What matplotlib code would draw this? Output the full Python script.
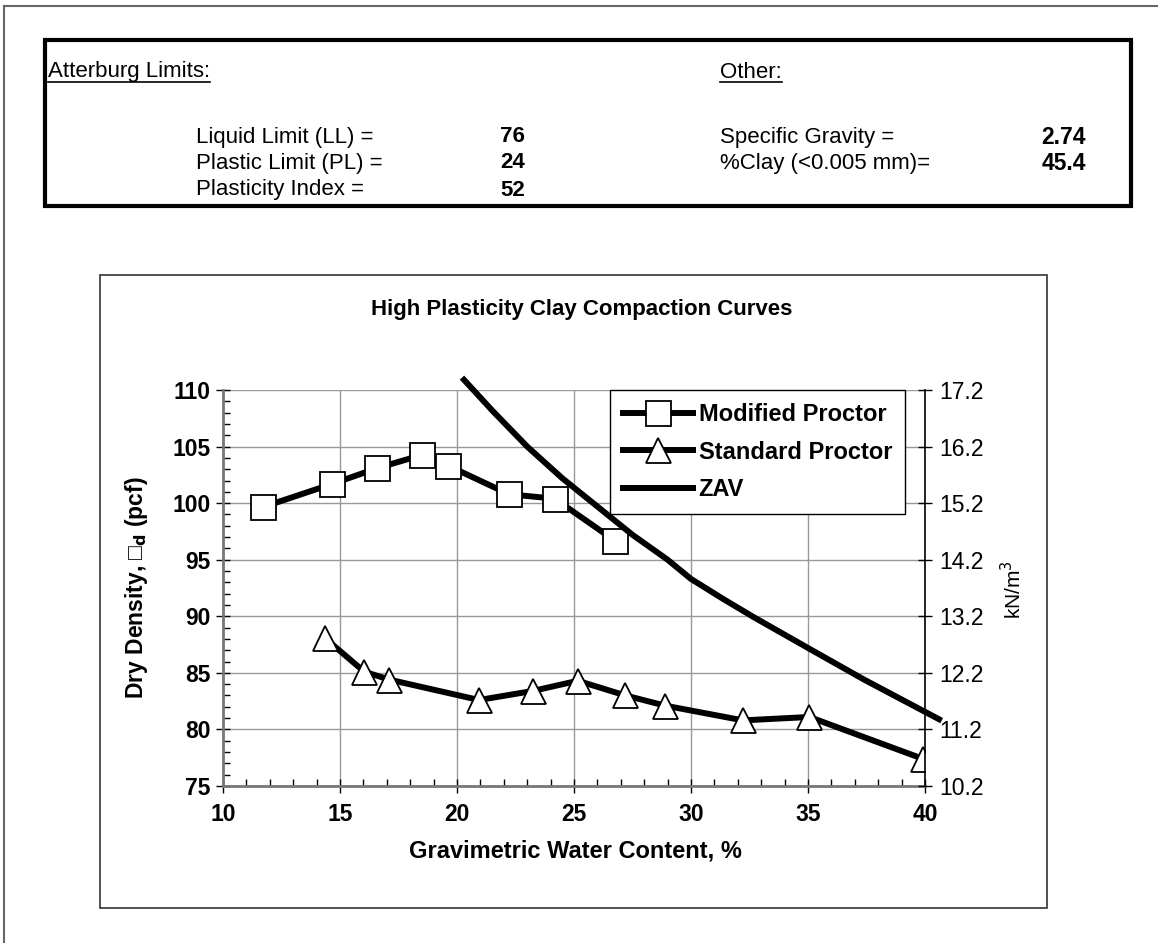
import matplotlib
matplotlib.use('Agg')
import matplotlib.pyplot as plt
from matplotlib.lines import Line2D
from matplotlib.patches import Rectangle
import numpy as np

plt.rcParams['font.family'] = ['Liberation Sans', 'DejaVu Sans']

# --- data ---
mod_w = [11.7, 14.64, 16.6, 18.49, 19.63, 22.23, 24.17, 26.75]
mod_gd = [99.65, 101.68, 103.1, 104.25, 103.3, 100.78, 100.4, 96.68]

std_w = [14.34, 16.04, 17.11, 20.94, 23.24, 25.16, 27.2, 28.9, 32.22, 35.06, 39.91]
std_gd = [88.1, 85.1, 84.4, 82.6, 83.4, 84.3, 83.0, 82.1, 80.8, 81.1, 77.4]

zav_w = [20.3, 21.5, 23.0, 24.5, 26.0, 27.5, 29.0, 30.0, 31.4, 32.7, 35.0, 37.4, 40.6]
zav_gd = [110.9, 108.2, 105.0, 102.2, 99.7, 97.2, 95.0, 93.3, 91.5, 89.9, 87.2, 84.4, 80.9]

kn_ticks = [10.2, 11.2, 12.2, 13.2, 14.2, 15.2, 16.2, 17.2]

atterburg_names = ['Liquid Limit (LL) =', 'Plastic Limit (PL) =', 'Plasticity Index =']
atterburg_vals = ['76', '24', '52']
other_names = ['Specific Gravity =', '%Clay (<0.005 mm)=']
other_vals = ['2.74', '45.4']

W, H = 1158, 943


def fx(px):
	return px / W


def fy(py):
	return 1 - py / H


fig = plt.figure(figsize=(W / 100, H / 100), dpi=100)

# page border (top and left only)
fig.add_artist(Line2D([fx(4), fx(4)], [0, fy(6)], color='#666666', lw=1.5))
fig.add_artist(Line2D([fx(4), 1], [fy(6), fy(6)], color='#666666', lw=1.5))

# properties table
fig.add_artist(Rectangle((fx(45), fy(206)), fx(1131) - fx(45), fy(40) - fy(206),
	fill=False, lw=3, ec='black'))
hdr1 = fig.text(fx(48), fy(72), 'Atterburg Limits:', fontsize=16, va='center')
hdr2 = fig.text(fx(720), fy(72), 'Other:', fontsize=16, va='center')
rows_y = [137, 163, 190]
for name, val, y in zip(atterburg_names, atterburg_vals, rows_y):
	fig.text(fx(196), fy(y), name, fontsize=16, va='center')
	fig.text(fx(500), fy(y), val, fontsize=16, va='center', fontweight='bold')
for name, val, y in zip(other_names, other_vals, rows_y):
	fig.text(fx(720), fy(y), name, fontsize=16, va='center')
	fig.text(fx(1086), fy(y), val, fontsize=16.5, va='center', ha='right', fontweight='bold')

# chart frame
fig.add_artist(Rectangle((fx(100), fy(908)), fx(1047) - fx(100), fy(275) - fy(908),
	fill=False, lw=1.2, ec='#333333'))
fig.text(fx(582), fy(310), 'High Plasticity Clay Compaction Curves', fontsize=16,
	fontweight='bold', ha='center', va='center')

ax = fig.add_axes([fx(223), fy(786), (925 - 223) / W, (786 - 390) / H])
ax.plot(mod_w, mod_gd, color='black', lw=4.3, marker='s', ms=18, mfc='white',
	mec='black', mew=1.3, label='Modified Proctor', zorder=3)
ax.plot(std_w, std_gd, color='black', lw=4.3, marker='^', ms=18, mfc='white',
	mec='black', mew=1.3, label='Standard Proctor', zorder=3)
ax.plot(zav_w, zav_gd, color='black', lw=4.3, label='ZAV', clip_on=False, zorder=4)

ax.set_xlim(10, 40)
ax.set_ylim(75, 110)
ax.set_xticks(range(10, 41, 5))
ax.set_xticks(range(10, 41), minor=True)
ax.set_yticks(range(75, 111, 5))
ax.set_yticks(range(75, 111), minor=True)
ax.tick_params(which='major', direction='inout', length=10, width=1, labelsize=16.5, color='black')
ax.tick_params(which='minor', direction='in', length=5, width=1, color='black')
ax.tick_params(axis='x', which='major', pad=7)
ax.tick_params(axis='y', which='major', pad=4)
for lab in ax.get_xticklabels() + ax.get_yticklabels():
	lab.set_fontweight('bold')
ax.grid(which='major', color='#999999', lw=1)
ax.set_axisbelow(True)
ax.spines['top'].set_visible(False)
ax.spines['right'].set_visible(False)
for s in ('left', 'bottom'):
	ax.spines[s].set_color('#777777')
	ax.spines[s].set_linewidth(2)

ax2 = ax.twinx()
ax2.set_ylim(10.2, 17.2)
ax2.set_yticks(kn_ticks)
ax2.set_yticklabels(['{:.1f}'.format(v) for v in kn_ticks])
ax2.tick_params(direction='inout', length=10, width=1, labelsize=16.5, pad=5)
for s in ('top', 'left', 'bottom'):
	ax2.spines[s].set_visible(False)
ax2.spines['right'].set_color('black')
ax2.spines['right'].set_linewidth(1.2)

leg = ax.legend(loc='upper left', bbox_to_anchor=((610 - 223) / 702, (786 - 390) / 396),
	borderaxespad=0, frameon=True, fancybox=False, framealpha=1, edgecolor='black',
	prop={'size': 17, 'weight': 'bold'}, numpoints=1, handlelength=2.95,
	handletextpad=0.25, borderpad=0.55, labelspacing=0.62)
leg.get_frame().set_linewidth(1)
leg.set_zorder(10)

fig.text(fx(575), fy(851), 'Gravimetric Water Content, %', fontsize=17,
	fontweight='bold', ha='center', va='center')
fig.text(fx(136), fy(588), 'Dry Density, \u25a1$_\\mathbf{d}$ (pcf)', fontsize=16.5,
	fontweight='bold', ha='center', va='center', rotation=90)
fig.text(fx(1013), fy(590), 'kN/m$^3$', fontsize=15, ha='center', va='center', rotation=90)

# underline the table headers
fig.canvas.draw()
for t in (hdr1, hdr2):
	bb = t.get_window_extent().transformed(fig.transFigure.inverted())
	fig.add_artist(Line2D([bb.x0, bb.x1], [bb.y0 + 0.001, bb.y0 + 0.001], color='black', lw=1.2))

fig.savefig('out.png', dpi=100)
